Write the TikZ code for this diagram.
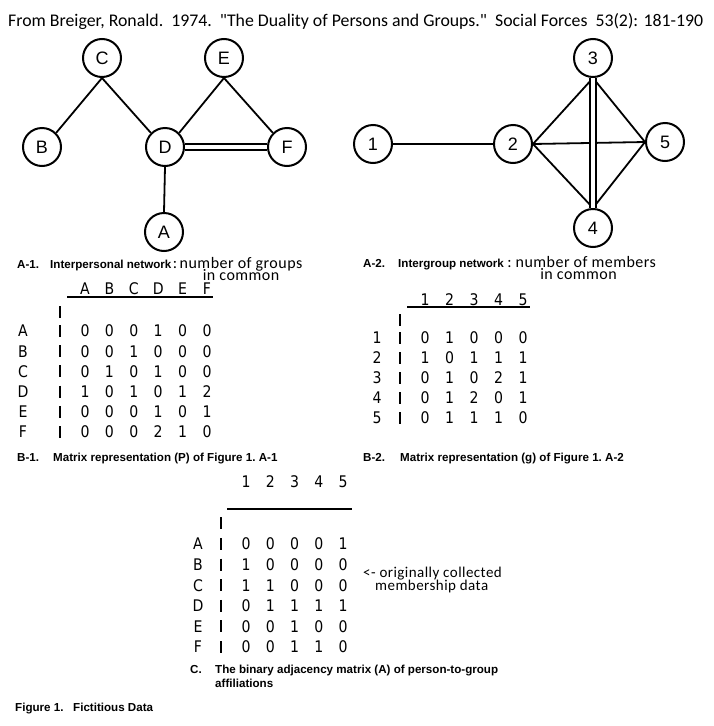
\documentclass[tikz,border=0pt]{standalone}
\usepackage{fontspec}
\setmainfont{Carlito}[Ligatures=TeXOff]
\newfontfamily\capfont{Liberation Sans}
\newfontfamily\matfont[FakeStretch=0.88]{DejaVu Sans}
\newfontfamily\nodefont{Liberation Sans}
\newfontfamily\notefont[LetterSpace=3,Ligatures=TeXOff]{Carlito}
\newcommand\tightlines{\lineskiplimit=-50pt\lineskip=0pt\relax}
\begin{document}
\begin{tikzpicture}[x=1pt,y=-1pt,
  vert/.style={circle,draw,line width=2pt,minimum size=38pt,inner sep=0pt,font=\nodefont\fontsize{18}{18}\selectfont},
  lnk/.style={line width=1.8pt},
  dbl/.style={double,double distance=4.5pt,line width=1.8pt},
  cell/.style={font=\matfont\fontsize{16}{16}\selectfont,inner sep=0pt,anchor=center},
  vbar/.style={line width=1.8pt},
  uline/.style={line width=1.5pt},
  capt/.style={font=\capfont\bfseries\fontsize{11.6}{13}\selectfont,inner sep=0pt,anchor=base west},
  notetext/.style={inner sep=0pt,anchor=base west,align=left},
]
\useasboundingbox (0,0) rectangle (714,726);
\fill[white] (0,0) rectangle (714,726);

% title
\node[inner sep=0pt,anchor=base west,font=\fontsize{17.8}{18}\selectfont] (title) at (8,26)
  {From Breiger, Ronald.\ \ 1974.\ \ "The Duality of Persons and Groups."\ \ Social Forces\ \ 53(2): 181-190};

% left graph
\node[vert] (C) at (102,58) {C};
\node[vert] (E) at (224,58) {E};
\node[vert] (B) at (42,147) {B};
\node[vert] (D) at (165,147) {D};
\node[vert] (F) at (287,147) {F};
\node[vert] (A) at (164,232) {A};
\draw[lnk] (C.south) -- (B.north east);
\draw[lnk] (C.south) -- (D.north west);
\draw[lnk] (E.south) -- (D.north east);
\draw[lnk] (E.south) -- (F.north west);
\draw[lnk] (D.south) -- (A.north);
\draw[dbl] (D.east) -- (F.west);

% right graph
\node[vert] (n1) at (373,144) {1};
\node[vert] (n2) at (513,144) {2};
\node[vert] (n3) at (593,58) {3};
\node[vert] (n4) at (593,228) {4};
\node[vert] (n5) at (665,142) {5};
\draw[lnk] (n1) -- (n2);
\draw[lnk] (n2.east) -- (n3.south);
\draw[lnk] (n2.east) -- (n4.north);
\draw[lnk] (n2.east) -- (n5.west);
\draw[lnk] (n3.south) -- (n5.west);
\draw[lnk] (n4.north) -- (n5.west);
\draw[dbl] (n3.south) -- (n4.north);

% captions A
\node[capt] (a1l) at (17,268) {A-1.};
\node[capt] (a1t) at (50,268) {Interpersonal\ network};
\node[notetext,font=\notefont\fontsize{16}{12.5}\selectfont\tightlines] (a1n) at ([xshift=1pt,yshift=-12.5pt]a1t.base east) {:\,number of groups\\\hspace*{30pt}in common};
\node[capt] (a2l) at (363,267) {A-2.};
\node[capt] (a2t) at (398,267) {Intergroup\ network};
\node[notetext,font=\notefont\fontsize{16}{12.5}\selectfont\tightlines] (a2n) at ([xshift=3pt,yshift=-12.5pt]a2t.base east) {:\ number of members\\\hspace*{33pt}in common};

% matrix B-1
\foreach \h [count=\j] in {A,B,C,D,E,F}{
  \pgfmathsetmacro\xx{85+24.4*(\j-1)}
  \node[cell] (b1h\j) at (\xx,289) {\h};
}
\draw[uline] (67,297) -- (213,297);
\draw[vbar] (60,306) -- (60,318);
\foreach \lab/\a/\b/\c/\d/\e/\f [count=\i] in {A/0/0/0/1/0/0,B/0/0/1/0/0/0,C/0/1/0/1/0/0,D/1/0/1/0/1/2,E/0/0/0/1/0/1,F/0/0/0/2/1/0}{
  \pgfmathsetmacro\yy{331+20.2*(\i-1)}
  \node[cell] (b1r\i) at (23,\yy) {\lab};
  \draw[vbar] (60,\yy-6) -- (60,\yy+6);
  \foreach \v [count=\j] in {\a,\b,\c,\d,\e,\f}{
    \pgfmathsetmacro\xx{85+24.4*(\j-1)}
    \node[cell] (b1c\i\j) at (\xx,\yy) {\v};
  }
}
\node[capt] (b1l) at (17,461) {B-1.};
\node[capt] (b1t) at (53,461) {Matrix\ representation\ (P)\ of\ Figure\ 1.\ A-1};

% matrix B-2
\foreach \h [count=\j] in {1,2,3,4,5}{
  \pgfmathsetmacro\xx{425+24.5*(\j-1)}
  \node[cell] (b2h\j) at (\xx,300) {\h};
}
\draw[uline] (407,307) -- (530,307);
\draw[vbar] (400,314) -- (400,326);
\foreach \lab/\a/\b/\c/\d/\e [count=\i] in {1/0/1/0/0/0,2/1/0/1/1/1,3/0/1/0/2/1,4/0/1/2/0/1,5/0/1/1/1/0}{
  \pgfmathsetmacro\yy{338+20*(\i-1)}
  \node[cell] (b2r\i) at (377,\yy) {\lab};
  \draw[vbar] (400,\yy-6) -- (400,\yy+6);
  \foreach \v [count=\j] in {\a,\b,\c,\d,\e}{
    \pgfmathsetmacro\xx{425+24.5*(\j-1)}
    \node[cell] (b2c\i\j) at (\xx,\yy) {\v};
  }
}
\node[capt] (b2l) at (363,461) {B-2.};
\node[capt] (b2t) at (400,461) {Matrix\ representation\ (g)\ of\ Figure\ 1.\ A-2};

% matrix C
\foreach \h [count=\j] in {1,2,3,4,5}{
  \pgfmathsetmacro\xx{246+24.25*(\j-1)}
  \node[cell] (ch\j) at (\xx,482) {\h};
}
\draw[uline] (227,509) -- (352,509);
\draw[vbar] (221,517) -- (221,529);
\foreach \lab/\a/\b/\c/\d/\e [count=\i] in {A/0/0/0/0/1,B/1/0/0/0/0,C/1/1/0/0/0,D/0/1/1/1/1,E/0/0/1/0/0,F/0/0/1/1/0}{
  \pgfmathsetmacro\yy{544+20.6*(\i-1)}
  \node[cell] (cr\i) at (198,\yy) {\lab};
  \draw[vbar] (221,\yy-6) -- (221,\yy+6);
  \foreach \v [count=\j] in {\a,\b,\c,\d,\e}{
    \pgfmathsetmacro\xx{246+24.25*(\j-1)}
    \node[cell] (cc\i\j) at (\xx,\yy) {\v};
  }
}
\node[notetext,font=\notefont\fontsize{15}{13}\selectfont\tightlines] (memb) at (363,590) {<- originally collected\\\hspace*{12pt}membership data};
\node[capt] (cl) at (190,673) {C.};
\node[capt] (ct) at (215,673) {The\ binary\ adjacency\ matrix\ (A)\ of\ person-to-group};
\node[capt] (ct2) at (215,687) {affiliations};
\node[capt] (fig) at (15,711) {Figure\ 1.\ \ \ Fictitious\ Data};
\end{tikzpicture}
\end{document}
